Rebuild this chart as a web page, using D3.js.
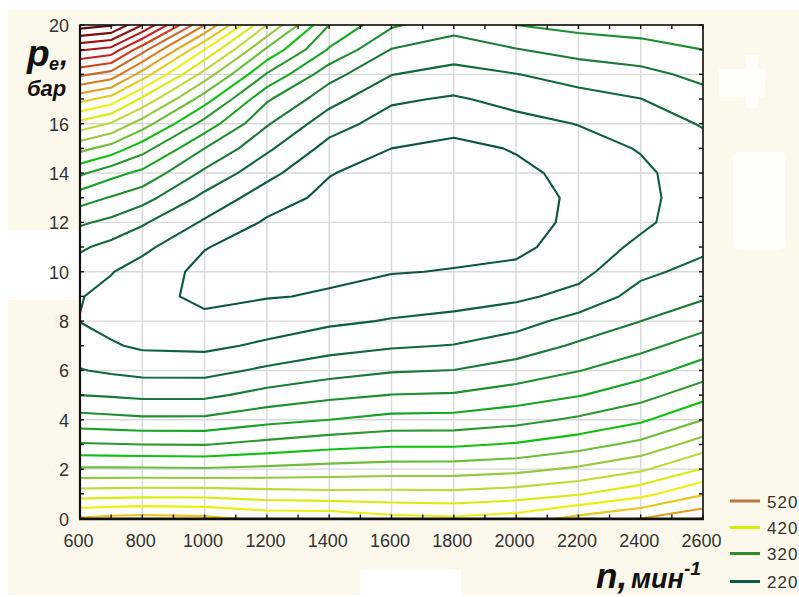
<!DOCTYPE html>
<html>
<head>
<meta charset="utf-8">
<script src="https://cdn.jsdelivr.net/npm/d3@7"></script>
<style>
  body { margin: 0; background: #ffffff; }
  svg { display: block; }
</style>
</head>
<body>
<svg id="chart" width="799" height="597"></svg>
<script>
// ---------------- DATA ----------------
// engine speed n (min^-1) of each grid column, pressure pe (bar) of each grid row
const nValues = [600, 700, 800, 1000, 1200, 1400, 1600, 1800, 2000, 2200, 2400, 2600];
const peValues = d3.range(0, 21, 1);
const nTickLabels = [600, 800, 1000, 1200, 1400, 1600, 1800, 2000, 2200, 2400, 2600];
const peGridValues = [0, 2, 4, 6, 8, 10, 12, 14, 16, 18, 20];
const peTickLabels = [0, 2, 4, 6, 8, 10, 12, 14, 16, 20];   // 18 is hidden behind the axis title
const contourLevels = d3.range(200, 641, 20);
const legendLevels = [520, 420, 320, 220];

// specific consumption, one column per speed, pe = 0..20
const sfc600  = [462, 410, 363, 322, 288, 260, 241, 230, 219.5, 221, 230, 243, 263, 289, 324, 366, 413, 467, 524, 582, 650];
const sfc700  = [466, 411, 363, 321, 286, 258, 237, 222, 214, 214, 221, 234, 255, 278.5, 307, 352, 398, 452, 512, 573, 642];
const sfc800  = [468, 412, 363, 320, 284, 255.5, 233.8, 217, 209, 206, 211, 225.2, 242.5, 268, 295, 328.4, 370.2, 416.1, 471.4, 527.9, 600];
const sfc1000 = [465, 412, 362, 319.3, 284.3, 255.7, 233.4, 215.6, 203.8, 196, 195, 200.8, 217.4, 234.7, 255.6, 280, 312.5, 349.6, 391.7, 440, 500];
const sfc1200 = [455, 408.3, 364.8, 326, 293.8, 266.9, 243.6, 223.4, 210.2, 199, 193, 192, 197.5, 209.3, 226.1, 243.6, 262, 282.9, 318.2, 356.4, 400];
const sfc1400 = [455, 406, 367.8, 332.8, 300, 275.1, 251.9, 232.4, 216.4, 201.5, 197, 194, 193, 195, 201, 213.3, 228.7, 247.3, 267.5, 297.9, 320];
const sfc1600 = [446, 405.9, 370, 337, 306.5, 280.5, 258.3, 237.7, 221.3, 209.8, 199, 194, 191, 190, 192, 200, 211, 223.1, 240.5, 259.1, 283];
const sfc1800 = [443, 405.2, 370.5, 337, 307.2, 282, 260.4, 240.8, 225, 212.3, 200.9, 195, 191, 189, 190, 195, 206.7, 217.8, 232.8, 250.6, 267];
const sfc2000 = [448.9, 409.5, 374.4, 341.9, 313.3, 289.5, 268.5, 250, 232.2, 216.3, 204, 196, 193, 193, 196, 201.3, 214, 226, 239.5, 259, 280];
const sfc2200 = [466, 418.1, 383.3, 351.5, 323.5, 298.8, 279.3, 262.8, 247.1, 226, 214, 208, 204, 203, 205, 212, 220.6, 233, 248, 267.4, 286];
const sfc2400 = [480, 433.3, 396.7, 365.6, 336.5, 312.5, 291.7, 274.6, 259.9, 247.5, 235.6, 224.5, 216, 215, 216, 221.3, 230.5, 239.7, 254.4, 271.5, 290];
const sfc2600 = [495, 458.1, 421.1, 389.4, 360, 333, 309.1, 289.4, 272.4, 257.7, 246.3, 236, 232, 230, 231, 234, 241.4, 252.7, 265.3, 280, 296];
const columns = [sfc600, sfc700, sfc800, sfc1000, sfc1200, sfc1400, sfc1600, sfc1800, sfc2000, sfc2200, sfc2400, sfc2600];

// ---------------- STYLE ----------------
const colorStops = [200, 240, 260, 280, 300, 320, 340, 360, 380, 400, 420, 440, 460, 480, 500, 520, 540, 560, 600, 640];
const colorRange = ['#0b5542', '#11683f', '#1a7a38', '#1f8e30', '#18a424', '#2a9830', '#12c012', '#6cbd3a', '#98c840',
                    '#c0d838', '#d8ec10', '#eeee10', '#e8c818', '#e0a020', '#dc7818', '#c8682a', '#d83c18', '#cc1c1c',
                    '#9a1010', '#5c0808'];
const color = d3.scaleLinear().domain(colorStops).range(colorRange).clamp(true);

const svg = d3.select('#chart');
const W0 = 799, H0 = 597;
const plot = { left: 80, right: 703, top: 25, bottom: 518.5 };

// background pieces
const cream = '#fcf8ec';
svg.append('rect').attr('x', 0).attr('y', 0).attr('width', W0).attr('height', H0).attr('fill', '#ffffff');
svg.append('rect').attr('x', 8).attr('y', 10).attr('width', W0 - 8).attr('height', 585).attr('fill', cream);
svg.append('rect').attr('x', 0).attr('y', 230).attr('width', 79).attr('height', 70).attr('fill', '#ffffff');
svg.append('rect').attr('x', 360).attr('y', 569).attr('width', 101).attr('height', 28).attr('fill', '#ffffff');
// faint white ghost shapes on the right
svg.append('rect').attr('x', 746).attr('y', 55).attr('width', 12).attr('height', 53).attr('fill', '#fffefb');
svg.append('rect').attr('x', 719).attr('y', 69).attr('width', 46).attr('height', 28).attr('fill', '#fffefb');
svg.append('rect').attr('x', 733).attr('y', 152).attr('width', 52).attr('height', 98).attr('rx', 6).attr('fill', '#fffefb');

// scales
const x = d3.scaleLinear().domain(d3.extent(nValues)).range([plot.left, plot.right]);
const y = d3.scaleLinear().domain(d3.extent(peValues)).range([plot.bottom, plot.top]);

// plot background
svg.append('rect').attr('x', plot.left).attr('y', plot.top)
  .attr('width', plot.right - plot.left).attr('height', plot.bottom - plot.top).attr('fill', '#ffffff');

// grid
const grid = svg.append('g').attr('stroke', '#d9d9d9').attr('stroke-width', 1.4);
nTickLabels.forEach(v => grid.append('line').attr('x1', x(v)).attr('x2', x(v)).attr('y1', plot.top).attr('y2', plot.bottom));
peGridValues.forEach(v => grid.append('line').attr('y1', y(v)).attr('y2', y(v)).attr('x1', plot.left).attr('x2', plot.right));

// ---------------- CONTOURS ----------------
const nc = columns.length, nr = columns[0].length;
function val(i, j) {
  if (i < 0) return 2 * val(0, j) - val(1, j);
  if (i >= nc) return 2 * val(nc - 1, j) - val(nc - 2, j);
  if (j < 0) return 2 * val(i, 0) - val(i, 1);
  if (j >= nr) return 2 * val(i, nr - 1) - val(i, nr - 2);
  return columns[i][j];
}
const GW = nc + 2, GH = nr + 2;
const values = new Array(GW * GH);
for (let j = -1; j <= nr; j++) for (let i = -1; i <= nc; i++) values[(j + 1) * GW + (i + 1)] = val(i, j);

// grid-index -> data coordinates (columns are not evenly spaced, so a piecewise scale)
const padN0 = 2 * nValues[0] - nValues[1], padN1 = 2 * nValues[nc - 1] - nValues[nc - 2];
const gx = d3.scaleLinear().domain(d3.range(0.5, nc + 2, 1)).range([padN0, ...nValues, padN1]);
const gy = d3.scaleLinear().domain([1.5, nr + 0.5]).range(d3.extent(peValues));
const path = d3.geoPath(d3.geoTransform({
  point: function (px, py) { this.stream.point(x(gx(px)), y(gy(py))); }
}));

const contours = d3.contours().size([GW, GH]).thresholds(contourLevels)(values);

svg.append('clipPath').attr('id', 'plotclip').append('rect')
  .attr('x', plot.left).attr('y', plot.top).attr('width', plot.right - plot.left).attr('height', plot.bottom - plot.top);

svg.append('g').attr('clip-path', 'url(#plotclip)')
  .selectAll('path').data(contours).join('path')
  .attr('d', path)
  .attr('fill', 'none')
  .attr('stroke', d => color(d.value))
  .attr('stroke-width', 2.1)
  .attr('stroke-linejoin', 'round');

// ---------------- AXES / FRAME ----------------
const frame = svg.append('g');
frame.append('rect').attr('x', plot.left).attr('y', plot.top)
  .attr('width', plot.right - plot.left).attr('height', plot.bottom - plot.top)
  .attr('fill', 'none').attr('stroke', '#111').attr('stroke-width', 1.6);
frame.append('line').attr('x1', plot.left - 1).attr('x2', plot.right + 1).attr('y1', plot.bottom + 0.5).attr('y2', plot.bottom + 0.5)
  .attr('stroke', '#111').attr('stroke-width', 2.6);
frame.append('line').attr('x1', plot.left).attr('x2', plot.left).attr('y1', plot.top).attr('y2', plot.bottom)
  .attr('stroke', '#111').attr('stroke-width', 2.2);

// inside ticks
const tickG = frame.append('g').attr('stroke', '#111').attr('stroke-width', 1.4);
d3.range(d3.min(nValues), d3.max(nValues) + 1, 100).forEach(v => {
  tickG.append('line').attr('x1', x(v)).attr('x2', x(v)).attr('y1', plot.bottom).attr('y2', plot.bottom - 4);
  tickG.append('line').attr('x1', x(v)).attr('x2', x(v)).attr('y1', plot.top).attr('y2', plot.top + 4);
});
peValues.forEach(v => {
  tickG.append('line').attr('x1', plot.left).attr('x2', plot.left + 4).attr('y1', y(v)).attr('y2', y(v));
  tickG.append('line').attr('x1', plot.right).attr('x2', plot.right - 4).attr('y1', y(v)).attr('y2', y(v));
});

const font = "'Liberation Sans', Arial, sans-serif";
svg.append('g').selectAll('text').data(nTickLabels).join('text')
  .attr('x', d => x(d) - 1.5).attr('y', 547)
  .attr('text-anchor', 'middle')
  .attr('font-family', font).attr('font-size', 18).attr('fill', '#333')
  .text(d => d);
svg.append('g').selectAll('text').data(peTickLabels).join('text')
  .attr('x', 69).attr('y', d => y(d) + 7)
  .attr('text-anchor', 'end')
  .attr('font-family', font).attr('font-size', 18).attr('fill', '#333')
  .text(d => d);

// axis titles
const yt = svg.append('text').attr('font-family', font).attr('font-weight', 'bold').attr('font-style', 'italic').attr('fill', '#111');
yt.append('tspan').attr('x', 27).attr('y', 66).attr('font-size', 37).text('p');
yt.append('tspan').attr('x', 49).attr('y', 70).attr('font-size', 18).text('e');
yt.append('tspan').attr('x', 60).attr('y', 65).attr('font-size', 30).text(',');
svg.append('text').attr('x', 27).attr('y', 96).attr('font-family', font).attr('font-weight', 'bold')
  .attr('font-style', 'italic').attr('font-size', 22).attr('fill', '#111').text('бар');

const xt = svg.append('text').attr('font-family', font).attr('font-weight', 'bold').attr('font-style', 'italic').attr('fill', '#111');
xt.append('tspan').attr('x', 596).attr('y', 588).attr('font-size', 35).text('n,');
xt.append('tspan').attr('x', 631).attr('y', 588).attr('font-size', 27).text('мин');
xt.append('tspan').attr('x', 684).attr('y', 575).attr('font-size', 19).text('-1');

// legend
const lg = svg.append('g');
const legY = [501, 527.5, 553.5, 581.5];
const legColor = { 520: '#b57c3c', 420: '#d6f000', 320: '#2e8e2e', 220: '#0d5a44' };
legendLevels.forEach((lv, k) => {
  lg.append('line').attr('x1', 730).attr('x2', 760).attr('y1', legY[k]).attr('y2', legY[k])
    .attr('stroke', legColor[lv]).attr('stroke-width', 3);
  lg.append('text').attr('x', 767).attr('y', legY[k] + 6.5)
    .attr('font-family', font).attr('font-size', 17).attr('letter-spacing', 1).attr('fill', '#333')
    .text(lv);
});
</script>
</body>
</html>
